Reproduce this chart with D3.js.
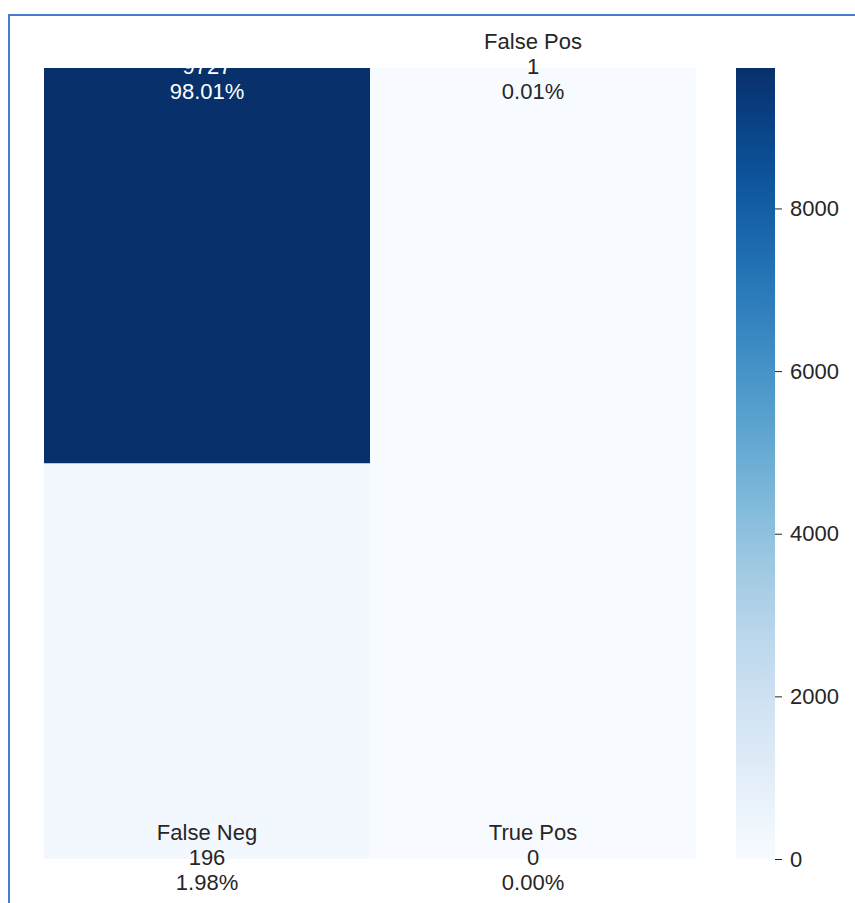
<!DOCTYPE html>
<html lang="en">

<head>
    <meta charset="UTF-8">
    <title>Confusion matrix</title>
    <script src="https://cdn.jsdelivr.net/npm/d3@7"></script>
    <style>
        * {
            margin: 0;
            padding: 0;
        }

        body {
            background: #fff;
        }

        text {
            font-family: "Liberation Sans", Arial, Helvetica, sans-serif;
        }
    </style>
</head>

<body>
    <script>
        // confusion matrix values (row-major: actual x predicted)
        const groupNames = ["True Neg", "False Pos", "False Neg", "True Pos"];
        const groupCounts = [9727, 1, 196, 0];
        const colorTicks = [0, 2000, 4000, 6000, 8000];

        const width = 855;
        const height = 903;
        const svg = d3.select("body").append("svg").attr("width", width).attr("height", height);

        const total = d3.sum(groupCounts);
        const cells = groupCounts.map((v, i) => ({
            row: Math.floor(i / 2),
            col: i % 2,
            name: groupNames[i],
            count: v,
            pct: d3.format(".2%")(v / total)
        }));

        const hmLeft = 44, hmRight = 696, hmTop = 68, hmBottom = 859;
        const x = d3.scaleBand().domain([0, 1]).range([hmLeft, hmRight]);
        // only half of each row is visible (the old matplotlib ylim crop)
        const y = d3.scaleLinear().domain([0.5, 1.5]).range([hmTop, hmBottom]);
        const vmax = d3.max(groupCounts);
        const color = d3.scaleSequential(d3.interpolateBlues).domain([0, vmax]);

        // blue frame around the screenshot
        svg.append("rect")
            .attr("x", 9).attr("y", 15)
            .attr("width", width + 20).attr("height", height + 20)
            .attr("fill", "none")
            .attr("stroke", "#4a7ad6")
            .attr("stroke-width", 2);

        const defs = svg.append("defs");
        defs.append("clipPath").attr("id", "hm")
            .append("rect")
            .attr("x", hmLeft).attr("y", hmTop)
            .attr("width", hmRight - hmLeft).attr("height", hmBottom - hmTop);

        svg.append("g")
            .attr("clip-path", "url(#hm)")
            .selectAll("rect")
            .data(cells)
            .join("rect")
            .attr("x", d => x(d.col))
            .attr("y", d => y(d.row))
            .attr("width", x.bandwidth())
            .attr("height", y(1) - y(0))
            .attr("fill", d => color(d.count));

        const lineGap = 25;
        const labels = svg.append("g")
            .selectAll("g")
            .data(cells)
            .join("g")
            .attr("transform", d => `translate(${x(d.col) + x.bandwidth() / 2},${y(d.row + 0.5) - 2})`)
            .attr("fill", d => d.count > vmax / 2 ? "#ffffff" : "#262626")
            .attr("font-size", 22)
            .attr("text-anchor", "middle");

        labels.selectAll("text")
            .data(d => [d.name, d.count, d.pct])
            .join("text")
            .attr("y", (d, i) => (i - 1) * lineGap)
            .attr("dominant-baseline", "central")
            .text(d => d);

        // colorbar
        const cbLeft = 736, cbWidth = 39;
        const cy = d3.scaleLinear().domain([0, vmax]).range([hmBottom, hmTop]);
        const grad = defs.append("linearGradient")
            .attr("id", "cb")
            .attr("x1", 0).attr("y1", 1).attr("x2", 0).attr("y2", 0);
        grad.selectAll("stop")
            .data(d3.range(0, 1.0001, 0.05))
            .join("stop")
            .attr("offset", d => d)
            .attr("stop-color", d => d3.interpolateBlues(d));

        svg.append("rect")
            .attr("x", cbLeft).attr("y", hmTop)
            .attr("width", cbWidth).attr("height", hmBottom - hmTop)
            .attr("fill", "url(#cb)");

        const axis = svg.append("g")
            .attr("transform", `translate(${cbLeft + cbWidth},0)`)
            .call(d3.axisRight(cy).tickValues(colorTicks).tickSize(7).tickPadding(8).tickFormat(d3.format("d")));
        axis.select(".domain").remove();
        axis.selectAll("line").attr("stroke", "#262626");
        axis.selectAll("text")
            .attr("fill", "#262626")
            .attr("font-size", 22)
            .attr("font-family", "\"Liberation Sans\", Arial, sans-serif");
    </script>
</body>

</html>
